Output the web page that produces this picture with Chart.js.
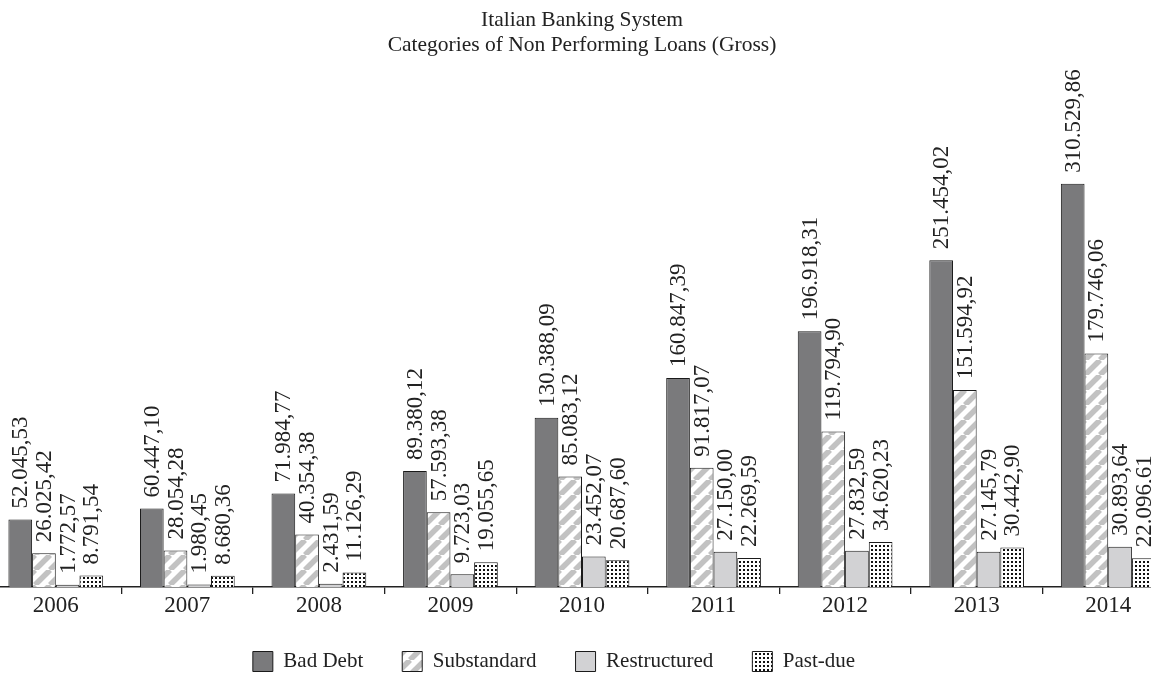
<!DOCTYPE html>
<html>
<head>
<meta charset="utf-8">
<script src="https://cdn.jsdelivr.net/npm/chart.js@4"></script>
<style>
  html, body { margin: 0; padding: 0; background: #fff; overflow: hidden; }
  #wrap { position: relative; width: 1151px; height: 679px; overflow: hidden; }
  #chart { position: absolute; left: -10px; top: 0; }
</style>
</head>
<body>
<div id="wrap"><canvas id="chart" width="1184" height="679"></canvas></div>
<script>
const years = ['2006', '2007', '2008', '2009', '2010', '2011', '2012', '2013', '2014'];
const badDebt = [52045.53, 60447.10, 71984.77, 89380.12, 130388.09, 160847.39, 196918.31, 251454.02, 310529.86];
const substandard = [26025.42, 28054.28, 40354.38, 57593.38, 85083.12, 91817.07, 119794.90, 151594.92, 179746.06];
const restructured = [1772.57, 1980.45, 2431.59, 9723.03, 23452.07, 27150.00, 27832.59, 27145.79, 30893.64];
const pastDue = [8791.54, 8680.36, 11126.29, 19055.65, 20687.60, 22269.59, 34620.23, 30442.90, 22096.61];

const serif = 'Liberation Serif';
const ink = '#222';

// italian number format: 52.045,53
function fmt(v) {
  const parts = v.toFixed(2).split('.');
  return parts[0].replace(/\B(?=(\d{3})+(?!\d))/g, '.') + ',' + parts[1];
}

function stripes() {
  const c = document.createElement('canvas');
  c.width = 15; c.height = 15;
  const g = c.getContext('2d');
  g.fillStyle = '#fff';
  g.fillRect(0, 0, 15, 15);
  g.strokeStyle = '#c2c2c2';
  g.lineWidth = 5.5;
  [0, 15, 30].forEach(k => {
    g.beginPath();
    g.moveTo(k - 15, 15);
    g.lineTo(k, 0);
    g.stroke();
  });
  return g.createPattern(c, 'repeat');
}

function dots() {
  const c = document.createElement('canvas');
  c.width = 4; c.height = 4;
  const g = c.getContext('2d');
  g.fillStyle = '#fff';
  g.fillRect(0, 0, 4, 4);
  g.fillStyle = '#111';
  g.fillRect(1, 1, 2, 2);
  return g.createPattern(c, 'repeat');
}

// rotated value labels above each bar
const valueLabels = {
  id: 'valueLabels',
  afterDatasetsDraw(chart) {
    const ctx = chart.ctx;
    ctx.save();
    ctx.font = '23px "' + serif + '"';
    ctx.fillStyle = ink;
    ctx.textAlign = 'left';
    ctx.textBaseline = 'middle';
    chart.data.datasets.forEach((ds, i) => {
      chart.getDatasetMeta(i).data.forEach((bar, j) => {
        ctx.save();
        ctx.translate(bar.x + 1, bar.y - 11);
        ctx.rotate(-Math.PI / 2);
        ctx.fillText(fmt(ds.data[j]), 0, 0);
        ctx.restore();
      });
    });
    ctx.restore();
  }
};

// let the year labels hang below the thin axis box, nudge legend
const tweakLayout = {
  id: 'tweakLayout',
  afterLayout(chart) {
    chart.scales.x.bottom += 24;
    chart.legend.left -= 28;
    chart.legend.right -= 28;
    chart.legend.top += 3;
    chart.legend.bottom += 3;
  }
};

const bar = (label, data, fill) => ({
  label: label,
  data: data,
  backgroundColor: fill,
  borderColor: '#1a1a1a',
  borderWidth: 1,
  barPercentage: 1,
  categoryPercentage: 0.72
});

new Chart(document.getElementById('chart'), {
  type: 'bar',
  data: {
    labels: years,
    datasets: [
      bar('Bad Debt', badDebt, '#7a7a7c'),
      bar('Substandard', substandard, stripes()),
      bar('Restructured', restructured, '#d2d2d4'),
      bar('Past-due', pastDue, dots())
    ]
  },
  options: {
    responsive: false,
    animation: false,
    layout: { padding: 0 },
    plugins: {
      title: {
        display: true,
        text: ['Italian Banking System', 'Categories of Non Performing Loans (Gross)'],
        color: ink,
        font: { family: serif, size: 21.5, weight: 'normal', lineHeight: 1.163 },
        padding: { top: 7.5, bottom: 12.5 }
      },
      legend: {
        position: 'bottom',
        labels: {
          color: ink,
          font: { family: serif, size: 21 },
          boxWidth: 20,
          boxHeight: 20,
          padding: 39
        }
      },
      tooltip: { enabled: false }
    },
    scales: {
      x: {
        grid: {
          offset: true,
          drawOnChartArea: false,
          drawTicks: true,
          tickLength: 7,
          color: ink,
          lineWidth: 1.3
        },
        border: { display: true, color: ink, width: 1.5 },
        ticks: {
          color: ink,
          padding: -2,
          font: { family: serif, size: 23 }
        },
        afterFit(scale) { scale.height = 22; }
      },
      y: {
        display: false,
        min: 0,
        max: 398000
      }
    }
  },
  plugins: [valueLabels, tweakLayout]
});
</script>
</body>
</html>
